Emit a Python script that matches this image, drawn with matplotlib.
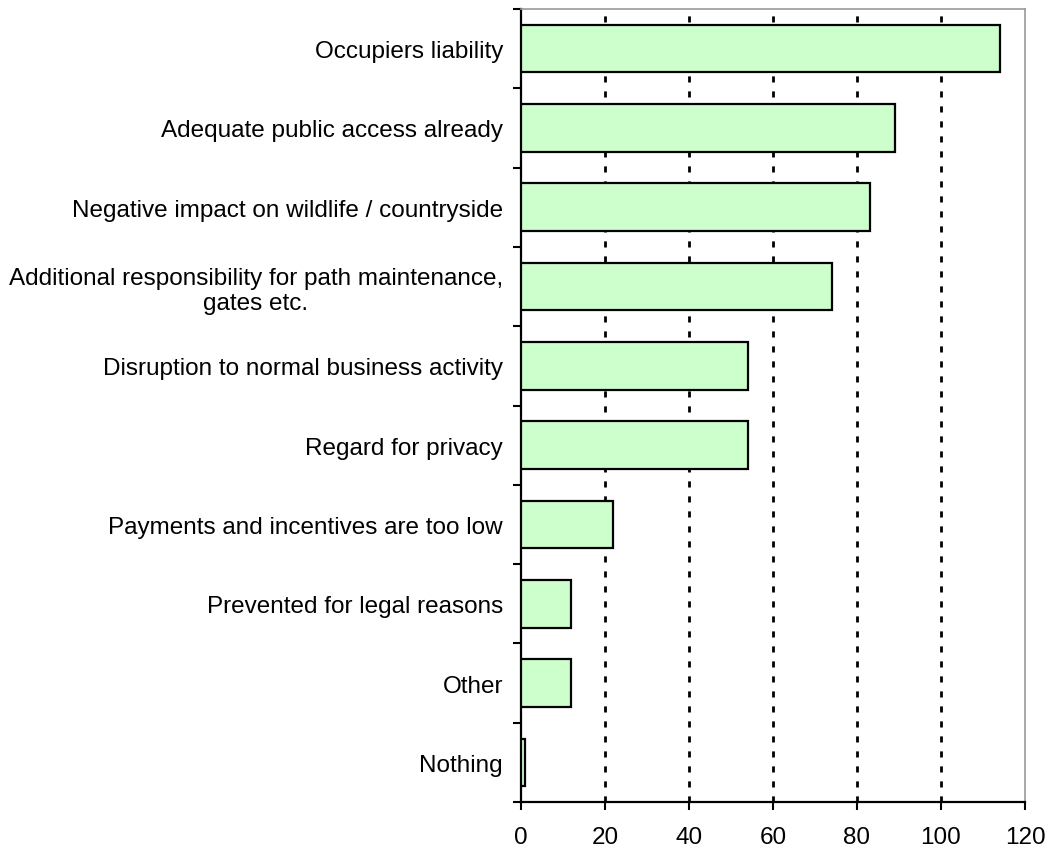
import numpy as np
import matplotlib.pyplot as plt

categories = [
    "Occupiers liability",
    "Adequate public access already",
    "Negative impact on wildlife / countryside",
    "Additional responsibility for path maintenance,\ngates etc.",
    "Disruption to normal business activity",
    "Regard for privacy",
    "Payments and incentives are too low",
    "Prevented for legal reasons",
    "Other",
    "Nothing",
]
values = [114, 89, 83, 74, 54, 54, 22, 12, 12, 1]
xticks = [0, 20, 40, 60, 80, 100, 120]

plt.rcParams['font.family'] = ['Liberation Sans', 'DejaVu Sans']

fig = plt.figure(figsize=(10.52, 8.54), dpi=100)
ax = fig.add_axes([521 / 1052, 1 - 803 / 854, (1025 - 521) / 1052, (803 - 10) / 854])

n = len(categories)
pos = np.arange(n)
ax.barh(pos, values, height=0.6, color='#CCFFCC', edgecolor='black', linewidth=1.6, zorder=3)

ax.set_xlim(0, 120)
ax.set_ylim(n - 0.5, -0.5)

# dotted vertical gridlines
for x in xticks[1:-1]:
    ax.axvline(x, color='black', linestyle=(0, (2.2, 3.2)), linewidth=2, zorder=1)

ax.set_xticks(xticks)
ax.set_xticklabels([str(x) for x in xticks], fontsize=17.5)
ax.tick_params(axis='x', direction='out', length=6, width=1.5, pad=11)

# category labels at centres, tick marks at boundaries
ax.set_yticks(pos)
ax.set_yticklabels(categories, fontsize=17.5, ha='right', multialignment='center')
ax.tick_params(axis='y', which='major', length=0, pad=13)
ax.set_yticks(np.arange(n + 1) - 0.5, minor=True)
ax.tick_params(axis='y', which='minor', direction='out', length=6, width=1.5)

for side in ['left', 'bottom']:
    ax.spines[side].set_color('black')
    ax.spines[side].set_linewidth(1.6)
for side in ['right', 'top']:
    ax.spines[side].set_color('#999999')
    ax.spines[side].set_linewidth(1.2)

fig.savefig('out.png', dpi=100)
